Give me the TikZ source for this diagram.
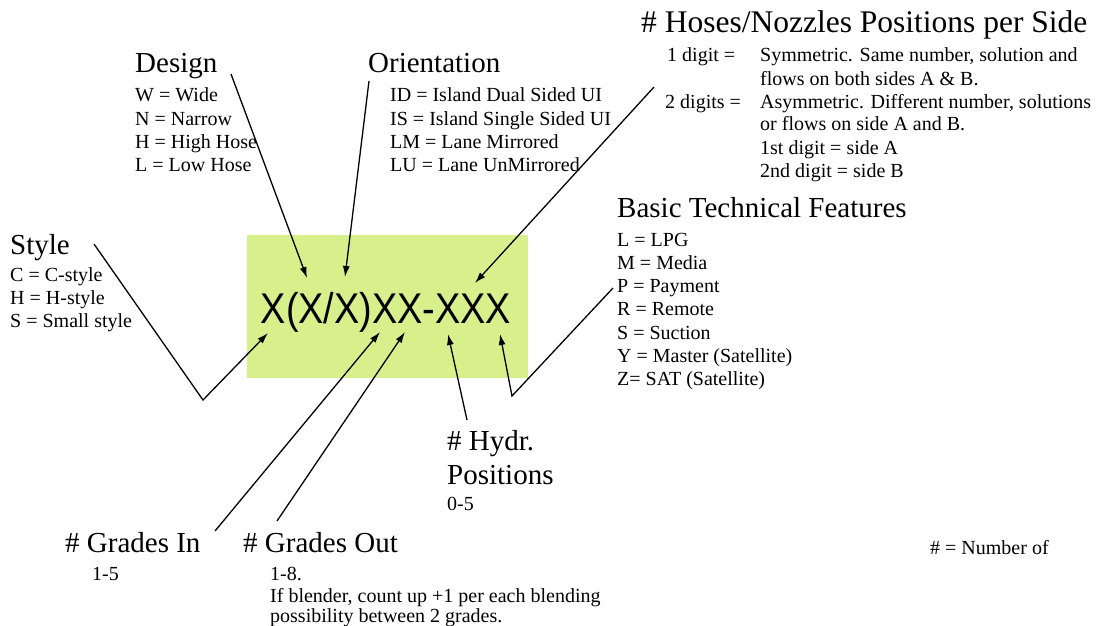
\documentclass[tikz,border=0pt]{standalone}
\usepackage{fontspec}
\setmainfont{Liberation Serif}
\newfontfamily\codefont{Liberation Sans}
\usetikzlibrary{arrows.meta}

\definecolor{codegreen}{RGB}{216,240,140}
\tikzset{
  head/.style={anchor=base west, inner sep=0pt, font=\fontsize{29}{33}\selectfont},
  item/.style={anchor=base west, inner sep=0pt, font=\fontsize{20}{23}\selectfont},
  pointer/.style={line width=1.3pt, -{Latex[length=11pt,width=7pt]}},
}

\begin{document}
\begin{tikzpicture}[x=1pt,y=-1pt]
\useasboundingbox (0,0) rectangle (1096,626);

\node[fill=codegreen, minimum width=281pt, minimum height=143pt, inner sep=0pt] (box) at (387.5,306.5) {};
\node[anchor=base, inner sep=0pt] (code) at (386,323) {\codefont\fontsize{43}{43}\selectfont\scalebox{0.88}[1]{X(X/X)XX-XXX}};

\node[head] (design) at (135,73) {Design};
\foreach \t [count=\i] in {W = Wide, N = Narrow, H = High Hose, L = Low Hose}
  \node[item] (design\i) at (135,79+23*\i) {\t};

\node[head] (orient) at (368,73) {Orientation};
\foreach \t [count=\i] in {ID = Island Dual Sided UI, IS = Island Single Sided UI, LM = Lane Mirrored, LU = Lane UnMirrored}
  \node[item] (orient\i) at (390,79+23*\i) {\t};

\node[head, font=\fontsize{31.5}{35}\selectfont] (hoses) at (641,33) {\# Hoses/Nozzles Positions per Side};
\node[item] (onedigit) at (667,62) {1 digit =};
\node[item] (twodigit) at (665,108) {2 digits =};
\foreach \t [count=\i] in {{Symmetric. Same number, solution and}, flows on both sides A \& B., {Asymmetric. Different number, solutions}, or flows on side A and B., 1st digit = side A, 2nd digit = side B}
  \node[item] (hoses\i) at (760,39+23*\i) {\t};

\node[head] (basic) at (617,217) {Basic Technical Features};
\foreach \t [count=\i] in {L = LPG, M = Media, P = Payment, R = Remote, S = Suction, Y = Master (Satellite), Z= SAT (Satellite)}
  \node[item] (basic\i) at (617,223+23.2*\i) {\t};

\node[head] (style) at (10,254) {Style};
\foreach \t [count=\i] in {C = C-style, H = H-style, S = Small style}
  \node[item] (style\i) at (10,258+23*\i) {\t};

\node[head] (hydr) at (447,450) {\# Hydr.};
\node[head] (hydrpos) at (447,484) {Positions};
\node[item] (hydrnum) at (447,510) {0-5};

\node[head] (gradesin) at (65,552) {\# Grades In};
\node[item] (gradesinnum) at (92,580) {1-5};

\node[head] (gradesout) at (243,552) {\# Grades Out};
\node[item] (gradesoutnum) at (270,580) {1-8.};
\node[item] (blend1) at (270,602) {If blender, count up +1 per each blending};
\node[item] (blend2) at (270,622) {possibility between 2 grades.};

\node[item] (legend) at (930,554) {\# = Number of};

\coordinate (design-end) at (231,74);
\coordinate (design-tip) at (307,278);
\coordinate (orient-end) at (369,81);
\coordinate (orient-tip) at (345,277);
\coordinate (hoses-end) at (654,87);
\coordinate (hoses-tip) at (475,283);
\coordinate (style-end) at (94,244);
\coordinate (style-bend) at (203,400);
\coordinate (style-tip) at (268,333);
\coordinate (basic-end) at (613,288);
\coordinate (basic-bend) at (512,396);
\coordinate (basic-tip) at (500,334);
\coordinate (hydr-end) at (467,420);
\coordinate (hydr-tip) at (448,334);
\coordinate (in-end) at (215,531);
\coordinate (in-tip) at (380,332);
\coordinate (out-end) at (277,521);
\coordinate (out-tip) at (405,332);

\draw[pointer] (design-end) -- (design-tip);
\draw[pointer] (orient-end) -- (orient-tip);
\draw[pointer] (hoses-end) -- (hoses-tip);
\draw[pointer] (style-end) -- (style-bend) -- (style-tip);
\draw[pointer] (basic-end) -- (basic-bend) -- (basic-tip);
\draw[pointer] (hydr-end) -- (hydr-tip);
\draw[pointer] (in-end) -- (in-tip);
\draw[pointer] (out-end) -- (out-tip);
\end{tikzpicture}
\end{document}
